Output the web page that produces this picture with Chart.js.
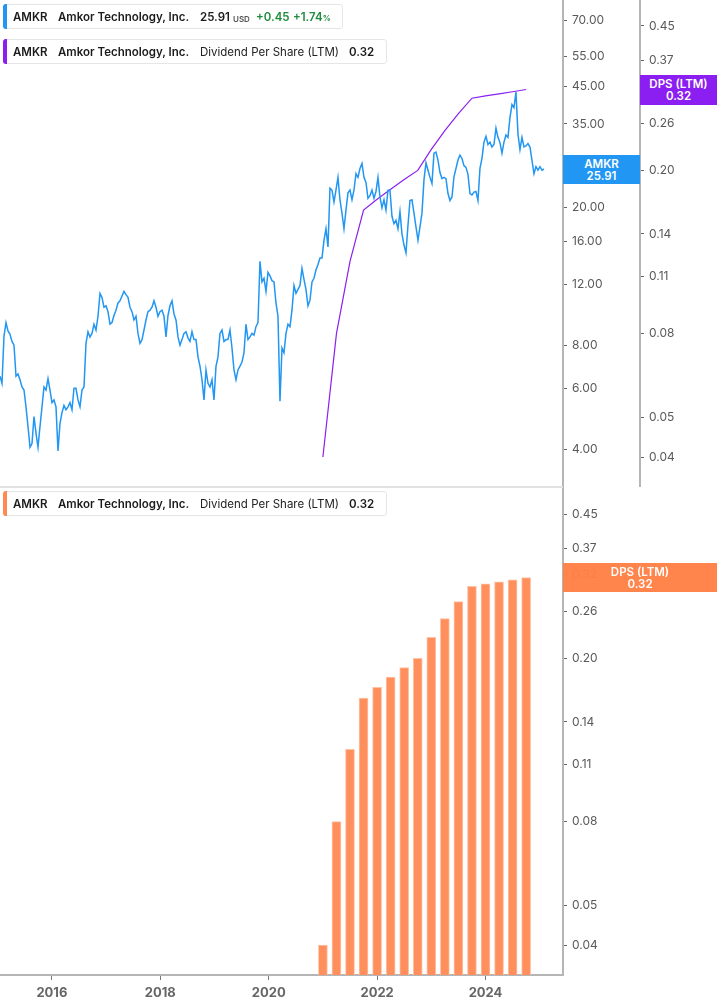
<!DOCTYPE html>
<html>
<head>
<meta charset="utf-8">
<script src="https://cdn.jsdelivr.net/npm/chart.js@4.4.1/dist/chart.umd.min.js"></script>
<style>
  body{margin:0;background:#fff;font-family:Inter,Roboto,"Noto Sans",sans-serif;}
  #wrap{position:relative;width:717px;height:1005px;overflow:hidden;background:#fff;}
  .pane{position:absolute;left:0;}
  .legend{position:absolute;left:3px;height:25px;background:#fff;border:1px solid #e6e6e6;border-radius:3px;font-size:11.5px;color:#1b1b1b;box-sizing:border-box;}
  .legend .bar{position:absolute;left:-1px;top:-1px;bottom:-1px;width:4px;border-radius:3px 0 0 3px;}
  .legend span{position:absolute;top:4px;white-space:nowrap;line-height:16px;}
  .b{font-weight:600;}
  .small{font-size:8px;color:#555;font-weight:600;}
  .green{color:#1e8c3c;font-weight:600;}
  .tag{position:absolute;color:#fff;font-size:11.5px;font-weight:600;text-align:center;line-height:12px;box-sizing:border-box;padding-top:3px;}
  #sep{position:absolute;left:0;top:486px;width:563px;height:2px;background:#e2e2e2;}
</style>
</head>
<body>
<div id="wrap">
  <canvas id="top" class="pane" width="717" height="487" style="top:0"></canvas>
  <canvas id="bottom" class="pane" width="717" height="518" style="top:487px"></canvas>
  <div id="sep"></div>

  <div class="legend" style="top:4px;width:340px;">
    <div class="bar" style="background:#2196f3"></div>
    <span class="b" style="left:9px">AMKR</span>
    <span class="b" style="left:54px">Amkor Technology, Inc.</span>
    <span class="b" style="left:196px">25.91</span>
    <span class="small" style="left:229px;top:6px">USD</span>
    <span class="green" style="left:252px">+0.45</span>
    <span class="green" style="left:289px">+1.74<span class="small" style="position:static;color:#1e8c3c">%</span></span>
  </div>
  <div class="legend" style="top:39px;width:384px;">
    <div class="bar" style="background:#8b1ef0"></div>
    <span class="b" style="left:9px">AMKR</span>
    <span class="b" style="left:54px">Amkor Technology, Inc.</span>
    <span style="left:196px;color:#222">Dividend Per Share (LTM)</span>
    <span class="b" style="left:345px">0.32</span>
  </div>
  <div class="legend" style="top:491px;width:384px;">
    <div class="bar" style="background:#ff8a4f"></div>
    <span class="b" style="left:9px">AMKR</span>
    <span class="b" style="left:54px">Amkor Technology, Inc.</span>
    <span style="left:196px;color:#222">Dividend Per Share (LTM)</span>
    <span class="b" style="left:345px">0.32</span>
  </div>

  <div class="tag" style="left:563px;top:155px;width:77px;height:29px;background:#2196f3">AMKR<br>25.91</div>
  <div class="tag" style="left:640px;top:75px;width:77px;height:30px;background:#8b1ef0">DPS (LTM)<br>0.32</div>
  <div class="tag" style="left:563px;top:563px;width:154px;height:29px;background:rgba(255,128,70,0.96)">DPS (LTM)<br>0.32</div>
</div>

<script>
// x axis is in decimal years
const xMin = 2015.042;
const xMax = 2025.43;
const yearTicks = [2016, 2018, 2020, 2022, 2024];

// AMKR close, sampled about every two weeks from mid Jan 2015
const priceStart = 2015.042;
const priceStep = 0.0369;
const priceValues = [
  6.5, 6.2, 8.5, 9.3, 8.8, 8.6, 8.2, 8.0, 6.5, 6.6,
  6.35, 6.05, 5.93, 5.3, 4.65, 4.05, 4.15, 4.97, 4.45, 4.05,
  4.65, 5.3, 6.05, 5.93, 6.4, 5.93, 5.45, 5.55, 5.3, 3.95,
  4.75, 5.1, 5.35, 5.2, 5.3, 5.45, 5.2, 6.0, 6.0, 5.55,
  5.3, 5.93, 6.05, 8.1, 8.75, 8.45, 8.65, 9.2, 8.85, 9.7,
  11.3, 11.0, 10.3, 10.4, 10.0, 9.2, 9.3, 9.75, 10.1, 10.6,
  10.75, 11.1, 11.45, 11.2, 11.0, 10.3, 10.0, 9.46, 9.7, 8.65,
  8.1, 8.3, 8.85, 9.46, 10.0, 10.1, 10.3, 10.75, 10.3, 9.7,
  10.0, 10.1, 9.7, 8.45, 9.75, 10.4, 10.75, 9.85, 9.46, 8.45,
  8.0, 8.3, 8.65, 8.75, 8.4, 8.2,
  8.75, 8.3, 8.3, 7.4, 6.95, 6.35, 5.55, 6.78, 6.2, 6.05,
  6.35, 5.55, 6.95, 7.4, 8.65, 8.85, 8.2, 8.3, 8.3, 8.85,
  7.85, 6.78, 6.35, 6.78, 6.95, 7.15, 7.6, 9.2, 8.3, 8.45,
  8.65, 8.55, 9.05, 9.3, 14.0, 12.2, 12.5, 11.45, 13.0, 12.7,
  12.3, 12.2, 10.6, 9.7, 5.5, 7.85, 7.6, 8.65, 9.2, 9.05,
  10.1, 11.9, 11.3, 11.6, 11.9, 13.35, 12.4, 11.6, 10.4, 10.8,
  12.2, 12.5, 13.2, 13.7, 14.3, 14.3, 16.1, 17.4, 15.4, 22.8,
  22.5, 20.8, 22.5, 24.5, 21.1, 19.3, 17.4, 19.7, 22.1, 22.5,
  21.1, 22.5, 25.1, 24.5, 26.0, 26.9, 24.5, 23.7, 21.3, 21.7,
  22.5, 21.3,
  22.3, 24.5, 21.5, 20.0, 21.1, 19.7, 22.5, 22.5, 18.9, 18.0,
  18.4, 17.4, 19.5, 16.8, 15.6, 14.8, 17.8, 21.0, 21.1, 19.3,
  17.6, 16.1, 17.6, 19.3, 24.1, 27.0, 25.7, 24.5, 23.5, 28.8,
  29.0, 27.5, 25.3, 24.3, 24.5, 24.3, 22.0, 21.0, 21.5, 24.6,
  26.0, 27.5, 28.4, 27.8, 26.5, 26.2, 25.0, 22.0, 21.8, 22.2,
  22.3, 21.0, 26.0, 27.8, 31.0, 32.2, 30.5, 31.0, 30.0, 30.5,
  34.0, 32.0, 30.9, 28.8, 31.0, 32.5, 32.0, 36.5, 39.8, 39.0,
  43.3, 32.7, 29.5, 32.0, 30.0, 30.2, 30.7, 30.0, 27.5, 25.1,
  26.3, 25.7, 26.3, 25.7, 25.91
];

// dividend per share, last twelve months, quarterly
const dpsDates = [2021.0, 2021.25, 2021.5, 2021.75, 2022.0, 2022.25, 2022.5, 2022.75,
                  2023.0, 2023.25, 2023.5, 2023.75, 2024.0, 2024.25, 2024.5, 2024.75];
const dpsValues = [0.04, 0.08, 0.12, 0.16, 0.17, 0.18, 0.19, 0.20,
                   0.225, 0.25, 0.275, 0.30, 0.304, 0.3075, 0.311, 0.315];

const priceTicks = [4, 6, 8, 12, 16, 20, 35, 45, 55, 70];
const dpsTicks = [0.04, 0.05, 0.08, 0.11, 0.14, 0.20, 0.26, 0.32, 0.37, 0.45];

const pricePoints = priceValues.map((v, i) => ({x: priceStart + i * priceStep, y: v}));
const dpsPoints = dpsValues.map((v, i) => ({x: dpsDates[i], y: v}));

const FONT = 'Inter, Roboto, "Noto Sans", sans-serif';

function rightAxis(ticks, min, max, weight, width){
  return {
    type: 'logarithmic', position: 'right', min: min, max: max, weight: weight,
    border: {display: true, color: '#b5b5b5', width: 2},
    grid: {drawOnChartArea: false, drawTicks: true, tickLength: 4, tickColor: '#666', tickWidth: 1},
    ticks: {autoSkip: false, padding: 5, color: '#595959', font: {family: FONT, size: 12},
            callback: v => Number(v).toFixed(2)},
    afterBuildTicks: s => { s.ticks = ticks.map(v => ({value: v})); },
    afterFit: s => { s.width = width; s.paddingTop = 0; s.paddingBottom = 0; }
  };
}

const common = {
  responsive: false, animation: false, devicePixelRatio: 1,
  layout: {padding: 0},
  plugins: {legend: {display: false}, tooltip: {enabled: false}}
};

new Chart(document.getElementById('top'), {
  type: 'line',
  data: {datasets: [
    {data: pricePoints, yAxisID: 'price', borderColor: '#2196f3', borderWidth: 1.5,
     pointRadius: 0, tension: 0},
    {data: dpsPoints, yAxisID: 'dps', borderColor: '#8b1ef0', borderWidth: 1.2,
     pointRadius: 0, tension: 0}
  ]},
  options: Object.assign({}, common, {
    scales: {
      x: {type: 'linear', min: xMin, max: xMax, display: false},
      price: rightAxis(priceTicks, 3.105, 80, 0, 77),
      dps: rightAxis(dpsTicks, 0.0338, 0.5207, 1, 77)
    }
  })
});

new Chart(document.getElementById('bottom'), {
  type: 'bar',
  data: {datasets: [
    {data: dpsPoints, yAxisID: 'y', backgroundColor: '#ff8f5c', borderColor: '#ffc3a3',
     borderWidth: 1, barThickness: 9}
  ]},
  options: Object.assign({}, common, {
    scales: {
      x: {
        type: 'linear', min: xMin, max: xMax, position: 'bottom', offset: false,
        border: {display: true, color: '#b5b5b5', width: 2},
        grid: {drawOnChartArea: false, offset: false, tickLength: 5, tickColor: '#777', tickWidth: 1},
        ticks: {autoSkip: false, maxRotation: 0, padding: 5, color: '#666',
                font: {family: FONT, size: 13, weight: 'bold'}, callback: v => String(v)},
        afterBuildTicks: s => { s.ticks = yearTicks.map(v => ({value: v})); },
        afterFit: s => { s.height = 30; s.paddingLeft = 0; s.paddingRight = 0; }
      },
      y: rightAxis(dpsTicks, 0.0338, 0.5237, 0, 154)
    }
  })
});
</script>
</body>
</html>
